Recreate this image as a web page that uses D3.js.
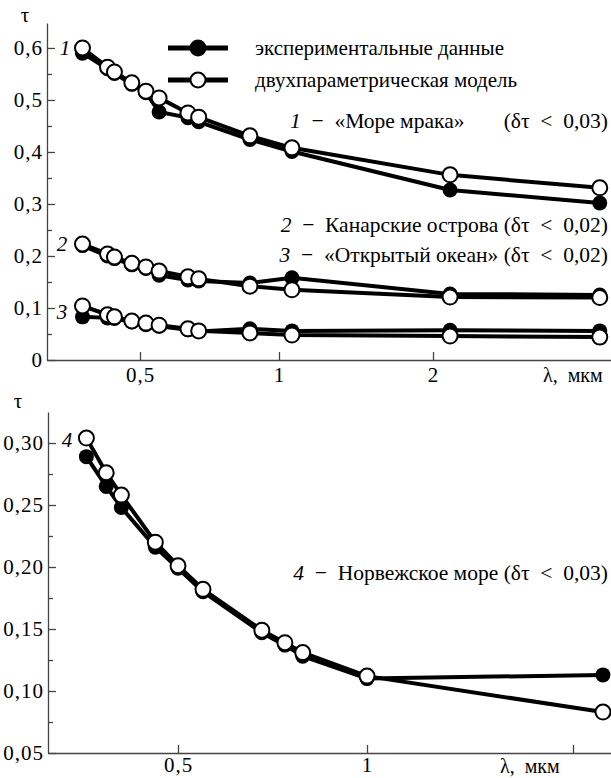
<!DOCTYPE html>
<html>
<head>
<meta charset="utf-8">
<script src="https://cdn.jsdelivr.net/npm/d3@7.9.0/dist/d3.min.js"></script>
<style>
  body { margin: 0; background: #fff; }
  svg text { font-family: "Liberation Serif", "Times New Roman", serif; fill: #000; }
</style>
</head>
<body>
<svg id="chart" width="611" height="778"></svg>
<script>
// wavelengths (µm), top panel
const lamTop = [0.375, 0.425, 0.44, 0.48, 0.515, 0.55, 0.635, 0.67, 0.865, 1.06, 2.16, 4.24];
// 1 – «Море мрака»
const model1 = [0.600, 0.563, 0.554, 0.533, 0.517, 0.504, 0.475, 0.467, 0.431, 0.408, 0.356, 0.331];
const exp1   = [0.590, 0.560, 0.551, 0.530, 0.514, 0.477, 0.466, 0.458, 0.424, 0.401, 0.327, 0.302];
// 2 – Канарские острова
const model2 = [0.223, 0.204, 0.198, 0.186, 0.179, 0.171, 0.160, 0.156, 0.142, 0.135, 0.121, 0.120];
const exp2   = [0.220, 0.200, 0.195, 0.183, 0.176, 0.163, 0.154, 0.152, 0.148, 0.158, 0.127, 0.125];
// 3 – «Открытый океан»
const model3 = [0.104, 0.087, 0.083, 0.075, 0.071, 0.067, 0.060, 0.056, 0.052, 0.048, 0.046, 0.044];
const exp3   = [0.083, 0.081, 0.080, 0.073, 0.068, 0.065, 0.058, 0.055, 0.060, 0.056, 0.057, 0.056];

// bottom panel, 4 – Норвежское море
const lamBot = [0.357, 0.384, 0.406, 0.46, 0.5, 0.548, 0.68, 0.74, 0.79, 1.0, 2.21];
const model4 = [0.304, 0.276, 0.258, 0.220, 0.201, 0.182, 0.149, 0.139, 0.131, 0.112, 0.083];
const exp4   = [0.289, 0.265, 0.248, 0.216, 0.199, 0.180, 0.147, 0.137, 0.128, 0.110, 0.113];

const yTicksTop = [0, 0.1, 0.2, 0.3, 0.4, 0.5, 0.6];
const yMinorTop = [0.05, 0.15, 0.25, 0.35, 0.45, 0.55];
const yTicksBot = [0.05, 0.10, 0.15, 0.20, 0.25, 0.30];
const yMinorBot = [0.075, 0.125, 0.175, 0.225, 0.275];
const xTicks = [0.5, 1, 2];
const xLabelsTop = ['0,5', '1', '2'];
const xLabelsBot = ['0,5', '1', ''];

const svg = d3.select('#chart');
const AXIS_COLOR = '#444';
const FS = 21;
const CAP_FS = 21.5;
const R = 7.5;
const SP = '\u2002';

const comma = (d, n) => d === 0 ? '0' : d.toFixed(n).replace('.', ',');

// scales (log, calibrated piecewise to the printed ticks)
const xTop = d3.scaleLog().domain([0.314, 0.5, 1, 2, 4.46]).range([47, 140, 279, 433, 611]);
const yTop = d3.scaleLinear().domain([0, 0.648]).range([360, 23]);
const xBot = d3.scaleLog().domain([0.31, 0.5, 1, 2, 2.27]).range([48, 178, 367, 573, 611]);
const yBot = d3.scaleLinear().domain([0.05, 0.325]).range([753, 412]);

function styleAxis(g) {
  g.attr('color', AXIS_COLOR)
    .attr('font-size', FS)
    .attr('font-family', '"Liberation Serif", serif');
  g.select('.domain').attr('stroke-width', 1.3);
  g.selectAll('.tick line').attr('stroke-width', 1.3);
  g.selectAll('text').attr('fill', '#000').attr('letter-spacing', 1);
}

function drawAxes(x, y, x0, y0, yTicks, yMinor, yDec, xLabels, xPad) {
  svg.append('g')
    .attr('transform', `translate(${x0},0)`)
    .call(d3.axisLeft(y).tickValues(yTicks).tickSizeInner(-8).tickSizeOuter(0)
      .tickPadding(4).tickFormat(d => comma(d, yDec)))
    .call(styleAxis);
  svg.append('g')
    .attr('transform', `translate(${x0},0)`)
    .call(d3.axisLeft(y).tickValues(yMinor).tickSizeInner(-5).tickSizeOuter(0).tickFormat(''))
    .call(styleAxis)
    .select('.domain').remove();
  svg.append('g')
    .attr('transform', `translate(0,${y0})`)
    .call(d3.axisBottom(x).tickValues(xTicks).tickSizeInner(-8).tickSizeOuter(0)
      .tickPadding(xPad).tickFormat((d, i) => xLabels[i]))
    .call(styleAxis);
}

function drawSeries(x, y, lam, model, exp) {
  const line = d3.line().x((d, i) => x(lam[i])).y(d => y(d));
  [exp, model].forEach(s => {
    svg.append('path')
      .datum(s)
      .attr('d', line)
      .attr('fill', 'none')
      .attr('stroke', '#000')
      .attr('stroke-width', 4);
  });
  svg.append('g').selectAll('circle')
    .data(exp)
    .join('circle')
    .attr('cx', (d, i) => x(lam[i]))
    .attr('cy', d => y(d))
    .attr('r', R)
    .attr('fill', '#000');
  svg.append('g').selectAll('circle')
    .data(model)
    .join('circle')
    .attr('cx', (d, i) => x(lam[i]))
    .attr('cy', d => y(d))
    .attr('r', R)
    .attr('fill', '#fff')
    .attr('stroke', '#000')
    .attr('stroke-width', 2);
}

// top panel
drawAxes(xTop, yTop, 47, 360, yTicksTop, yMinorTop, 1, xLabelsTop, 7);
drawSeries(xTop, yTop, lamTop, model1, exp1);
drawSeries(xTop, yTop, lamTop, model2, exp2);
drawSeries(xTop, yTop, lamTop, model3, exp3);

// bottom panel
drawAxes(xBot, yBot, 48, 753, yTicksBot, yMinorBot, 2, xLabelsBot, 4);
drawSeries(xBot, yBot, lamBot, model4, exp4);

// axis titles
svg.append('text').attr('x', 25).attr('y', 22).attr('text-anchor', 'middle')
  .attr('font-size', FS).text('τ');
svg.append('text').attr('x', 18).attr('y', 408).attr('text-anchor', 'middle')
  .attr('font-size', FS).text('τ');
svg.append('text').attr('x', 543).attr('y', 382).attr('font-size', 20).text('λ,' + SP + 'мкм');
svg.append('text').attr('x', 500).attr('y', 773).attr('font-size', 20).text('λ,' + SP + 'мкм');

// legend
const legendItems = [
  { label: 'экспериментальные данные', fill: '#000', y: 48 },
  { label: 'двухпараметрическая модель', fill: '#fff', y: 80 }
];
legendItems.forEach(item => {
  svg.append('line')
    .attr('x1', 168).attr('x2', 228)
    .attr('y1', item.y).attr('y2', item.y)
    .attr('stroke', '#000').attr('stroke-width', 5);
  svg.append('circle')
    .attr('cx', 198).attr('cy', item.y).attr('r', R)
    .attr('fill', item.fill).attr('stroke', '#000').attr('stroke-width', 2);
  svg.append('text')
    .attr('x', 255).attr('y', item.y + 7)
    .attr('font-size', FS)
    .text(item.label);
});

// curve numbers next to first points
[['1', 65, 55], ['2', 62, 251], ['3', 62, 319], ['4', 67, 447]].forEach(([t, x, y]) => {
  svg.append('text').attr('x', x).attr('y', y).attr('text-anchor', 'middle')
    .attr('font-size', FS).attr('font-style', 'italic').attr('fill', '#333').text(t);
});

// series captions
function caption(x, y, anchor, num, rest) {
  const t = svg.append('text').attr('x', x).attr('y', y)
    .attr('text-anchor', anchor).attr('font-size', CAP_FS);
  t.append('tspan').attr('font-style', 'italic').text(num);
  t.append('tspan').text(SP + '−' + SP + rest);
}
const dt = v => `(δτ${SP}<${SP}${v})`;
caption(290, 128, 'start', '1', '«Море мрака»');
svg.append('text').attr('x', 608).attr('y', 128).attr('text-anchor', 'end')
  .attr('font-size', CAP_FS).text(dt('0,03'));
caption(608, 232, 'end', '2', 'Канарские острова ' + dt('0,02'));
caption(608, 262, 'end', '3', '«Открытый океан» ' + dt('0,02'));
caption(608, 580, 'end', '4', 'Норвежское море ' + dt('0,03'));
</script>
</body>
</html>
